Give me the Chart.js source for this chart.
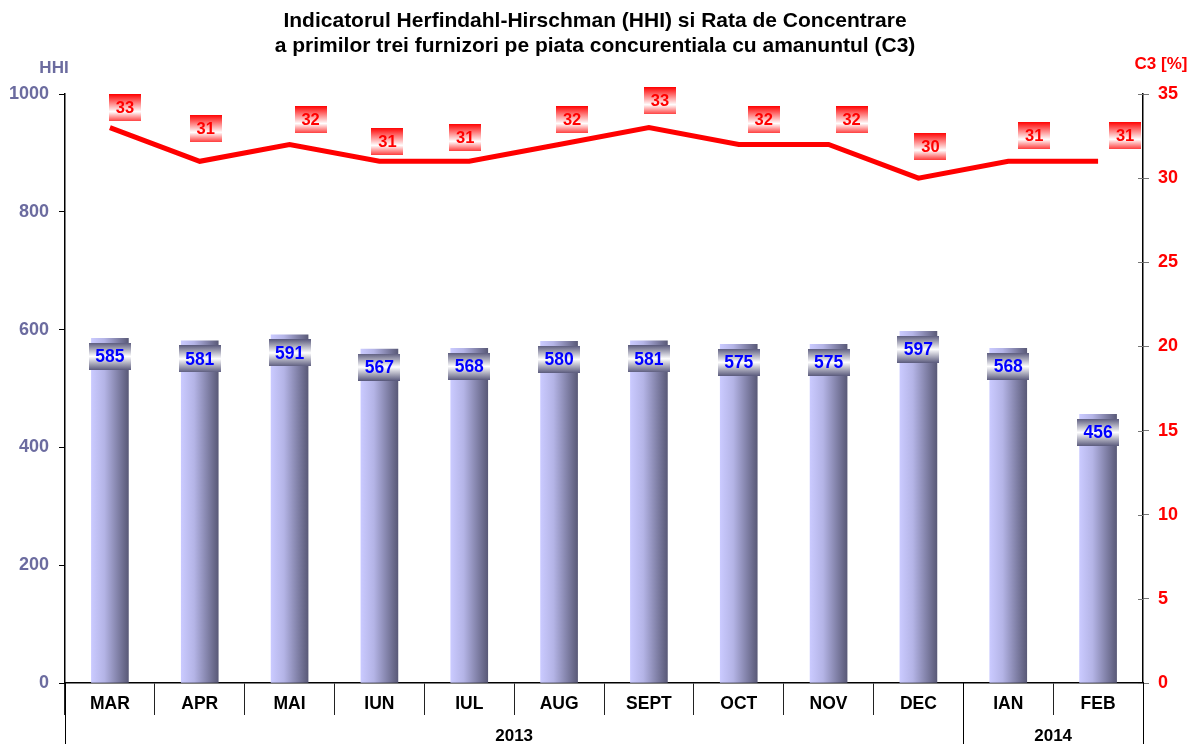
<!DOCTYPE html>
<html>
<head>
<meta charset="utf-8">
<title>HHI si C3</title>
<script src="https://cdn.jsdelivr.net/npm/chart.js@4.4.1/dist/chart.umd.min.js"></script>
<style>
  html, body { margin: 0; padding: 0; background: #fff; }
  #wrap { width: 1191px; height: 744px; }
</style>
</head>
<body>
<div id="wrap"><canvas id="chart" width="1191" height="744"></canvas></div>
<script>
// date
const months = ['MAR', 'APR', 'MAI', 'IUN', 'IUL', 'AUG', 'SEPT', 'OCT', 'NOV', 'DEC', 'IAN', 'FEB'];
const hhiValues = [585, 581, 591, 567, 568, 580, 581, 575, 575, 597, 568, 456];
const c3Values = [33, 31, 32, 31, 31, 32, 33, 32, 32, 30, 31, 31];
const years = ['2013', '2014'];
const yearStart = [0, 10]; // indexul primei luni din fiecare an

// etichetele C3 au fost mutate manual in original (dx, dy fata de punct)
const c3LabelShift = [[15, -20], [6, -33], [21, -25], [8, -20], [-4, -24], [13, -25],
                      [11, -27], [25, -25], [23, -25], [12, -32], [26, -26], [27, -26]];

const FONT = '"Liberation Sans", Arial, sans-serif';
const HHI_COLOR = '#6b6b9f';

function barGradient(c) {
    const chart = c.chart;
    if (!chart.chartArea || c.dataIndex === undefined) return '#9a9acc';
    const cx = chart.scales.x.getPixelForValue(c.dataIndex);
    const g = chart.ctx.createLinearGradient(cx - 18.5, 0, cx + 18.5, 0);
    g.addColorStop(0, '#cacaff');
    g.addColorStop(0.35, '#b4b4e6');
    g.addColorStop(1, '#5a5a78');
    return g;
}

function drawBox(ctx, cx, cy, w, h, stops, text, color, size) {
    const g = ctx.createLinearGradient(0, cy - h / 2, 0, cy + h / 2);
    stops.forEach(s => g.addColorStop(s[0], s[1]));
    ctx.fillStyle = g;
    ctx.fillRect(Math.round(cx - w / 2), Math.round(cy - h / 2), w, h);
    ctx.fillStyle = color;
    ctx.font = 'bold ' + size + 'px ' + FONT;
    ctx.textAlign = 'center';
    ctx.textBaseline = 'middle';
    ctx.fillText(text, cx, cy + 1);
}

const labelsPlugin = {
    id: 'etichete',
    afterDatasetsDraw(chart) {
        const ctx = chart.ctx;
        ctx.save();
        const bars = chart.getDatasetMeta(0).data;
        bars.forEach((el, i) => {
            drawBox(ctx, el.x, el.y + 18, 42, 27,
                [[0, '#5c5c7e'], [0.5, '#ffffff'], [1, '#5c5c7e']],
                String(hhiValues[i]), '#0000ff', 17.5);
        });
        const pts = chart.getDatasetMeta(1).data;
        pts.forEach((el, i) => {
            const s = c3LabelShift[i];
            drawBox(ctx, el.x + s[0], el.y + s[1], 32, 27,
                [[0, '#ff0000'], [0.65, '#ffffff'], [1, '#ff4040']],
                String(c3Values[i]), '#ff0000', 16.5);
        });
        ctx.restore();
    },
    afterDraw(chart) {
        const ctx = chart.ctx;
        const x = chart.scales.x;
        const y1 = chart.scales.y1;
        const area = chart.chartArea;
        ctx.save();
        // titlu
        ctx.fillStyle = '#000';
        ctx.font = 'bold 21px ' + FONT;
        ctx.textAlign = 'center';
        ctx.textBaseline = 'middle';
        ctx.fillText('Indicatorul Herfindahl-Hirschman (HHI) si Rata de Concentrare', 595, 21);
        ctx.fillText('a primilor trei furnizori pe piata concurentiala cu amanuntul (C3)', 595, 46);
        // titluri axe
        ctx.font = 'bold 17px ' + FONT;
        ctx.fillStyle = HHI_COLOR;
        ctx.fillText('HHI', 54, 68);
        ctx.fillStyle = '#ff0000';
        ctx.fillText('C3 [%]', 1161, 64);
        // liniutele axei din dreapta trec peste axa
        ctx.strokeStyle = '#777';
        ctx.lineWidth = 1;
        y1.ticks.forEach((t, i) => {
            const py = Math.round(y1.getPixelForTick(i)) + 0.5;
            ctx.beginPath();
            ctx.moveTo(area.right - 5, py);
            ctx.lineTo(area.right, py);
            ctx.stroke();
        });
        // separatoare ani si etichete ani
        ctx.strokeStyle = '#000';
        const step = x.getPixelForValue(1) - x.getPixelForValue(0);
        const edges = yearStart.map(i => x.getPixelForValue(i) - step / 2);
        edges.push(area.right);
        edges.forEach(px => {
            ctx.beginPath();
            ctx.moveTo(Math.round(px) + 0.5, area.bottom);
            ctx.lineTo(Math.round(px) + 0.5, chart.height);
            ctx.stroke();
        });
        ctx.fillStyle = '#000';
        ctx.font = 'bold 17px ' + FONT;
        years.forEach((y, i) => {
            ctx.fillText(y, (edges[i] + edges[i + 1]) / 2, 736);
        });
        ctx.restore();
    }
};

new Chart(document.getElementById('chart'), {
    data: {
        labels: months,
        datasets: [{
            type: 'bar',
            label: 'HHI',
            data: hhiValues,
            yAxisID: 'y',
            backgroundColor: barGradient,
            barThickness: 37,
            order: 1
        }, {
            type: 'line',
            label: 'C3',
            data: c3Values,
            yAxisID: 'y1',
            borderColor: '#ff0000',
            borderWidth: 5,
            pointRadius: 0,
            tension: 0,
            order: 0
        }]
    },
    plugins: [labelsPlugin],
    options: {
        responsive: false,
        animation: false,
        layout: { padding: { top: 94, left: 0, right: 0, bottom: 0 } },
        plugins: {
            legend: { display: false },
            title: { display: false },
            tooltip: { enabled: false }
        },
        scales: {
            x: {
                offset: true,
                grid: { offset: true, drawOnChartArea: false, tickLength: 32, color: '#222', lineWidth: 1 },
                border: { color: '#000', width: 1.5 },
                ticks: { color: '#000', font: { family: FONT, size: 17.5, weight: 'bold' }, padding: -21 },
                afterFit(scale) { scale.height = 61; }
            },
            y: {
                position: 'left',
                min: 0, max: 1000,
                ticks: {
                    stepSize: 200, color: HHI_COLOR, padding: 10,
                    font: { family: FONT, size: 18, weight: 'bold' },
                    callback: v => String(v)
                },
                grid: { drawOnChartArea: false, tickLength: 6, color: '#000' },
                border: { color: '#000', width: 1.5 },
                afterFit(scale) { scale.width = 65; }
            },
            y1: {
                position: 'right',
                min: 0, max: 35,
                ticks: { stepSize: 5, color: '#ff0000', padding: 9, font: { family: FONT, size: 18, weight: 'bold' } },
                grid: { drawOnChartArea: false, tickLength: 6, color: '#777' },
                border: { color: '#000', width: 1.5 },
                afterFit(scale) { scale.width = 48; }
            }
        }
    }
});
</script>
</body>
</html>
